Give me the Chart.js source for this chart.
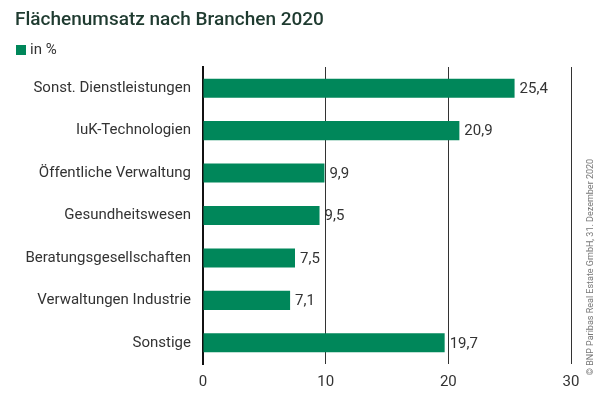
<!DOCTYPE html>
<html>
<head>
<meta charset="utf-8">
<script src="https://cdn.jsdelivr.net/npm/chart.js@4"></script>
<style>
  html, body { margin: 0; padding: 0; background: #fff; }
  #wrap { position: relative; width: 600px; height: 399px; }
</style>
</head>
<body>
<div id="wrap"><canvas id="chart" width="600" height="399"></canvas></div>
<script>
// Daten
const categories = [
  'Sonst. Dienstleistungen',
  'IuK-Technologien',
  'Öffentliche Verwaltung',
  'Gesundheitswesen',
  'Beratungsgesellschaften',
  'Verwaltungen Industrie',
  'Sonstige'
];
const values = [25.4, 20.9, 9.9, 9.5, 7.5, 7.1, 19.7];
const xTicks = [0, 10, 20, 30];

const titleText = 'Flächenumsatz nach Branchen 2020';
const legendText = 'in %';
const sourceText = '© BNP Paribas Real Estate GmbH, 31. Dezember 2020';

const green = '#00875a';
const fontFamily = 'Roboto, "Noto Sans", sans-serif';

// Titel, Legende, Quelle und Wertebeschriftung
const decorations = {
  id: 'decorations',
  afterDraw(chart) {
    const ctx = chart.ctx;
    ctx.save();
    // Titel
    ctx.fillStyle = '#1f3b30';
    ctx.font = '500 19px ' + fontFamily;
    ctx.textBaseline = 'middle';
    ctx.textAlign = 'left';
    ctx.fillText(titleText, 15, 20);
    // Legende
    ctx.fillStyle = green;
    ctx.fillRect(16, 45, 10, 10);
    ctx.fillStyle = '#333';
    ctx.font = '15px ' + fontFamily;
    ctx.fillText(legendText, 30, 50);
    // Werte
    const meta = chart.getDatasetMeta(0);
    ctx.font = '15px ' + fontFamily;
    ctx.fillStyle = '#333';
    meta.data.forEach((bar, i) => {
      const label = values[i].toFixed(1).replace('.', ',');
      ctx.fillText(label, bar.x + 5, bar.y + 1);
    });
    // Quelle (gedreht)
    ctx.translate(591, 267);
    ctx.rotate(-Math.PI / 2);
    ctx.textAlign = 'center';
    ctx.fillStyle = '#777';
    ctx.font = '9px ' + fontFamily;
    ctx.fillText(sourceText, 0, 0);
    ctx.restore();
  }
};

new Chart(document.getElementById('chart'), {
  type: 'bar',
  data: {
    labels: categories,
    datasets: [{
      label: legendText,
      data: values,
      backgroundColor: green,
      borderWidth: 0,
      barPercentage: 0.9,
      categoryPercentage: 0.5
    }]
  },
  options: {
    indexAxis: 'y',
    responsive: false,
    animation: false,
    layout: { padding: { left: 8, top: 67, right: 29, bottom: 0 } },
    plugins: {
      legend: { display: false },
      title: { display: false },
      tooltip: { enabled: false }
    },
    scales: {
      x: {
        min: 0,
        max: 30,
        afterBuildTicks(scale) {
          scale.ticks = xTicks.map(v => ({ value: v }));
        },
        afterFit(scale) { scale.height = 35; },
        grid: { color: '#333', lineWidth: 1, drawTicks: false },
        border: { display: false },
        ticks: {
          color: '#333',
          font: { family: fontFamily, size: 15 },
          padding: 9
        }
      },
      y: {
        afterFit(scale) { scale.width = 195; },
        grid: { display: false, drawTicks: false },
        border: { display: true, color: '#111', width: 2 },
        ticks: {
          color: '#333',
          font: { family: fontFamily, size: 15 },
          padding: 12
        }
      }
    }
  },
  plugins: [decorations]
});
</script>
</body>
</html>
